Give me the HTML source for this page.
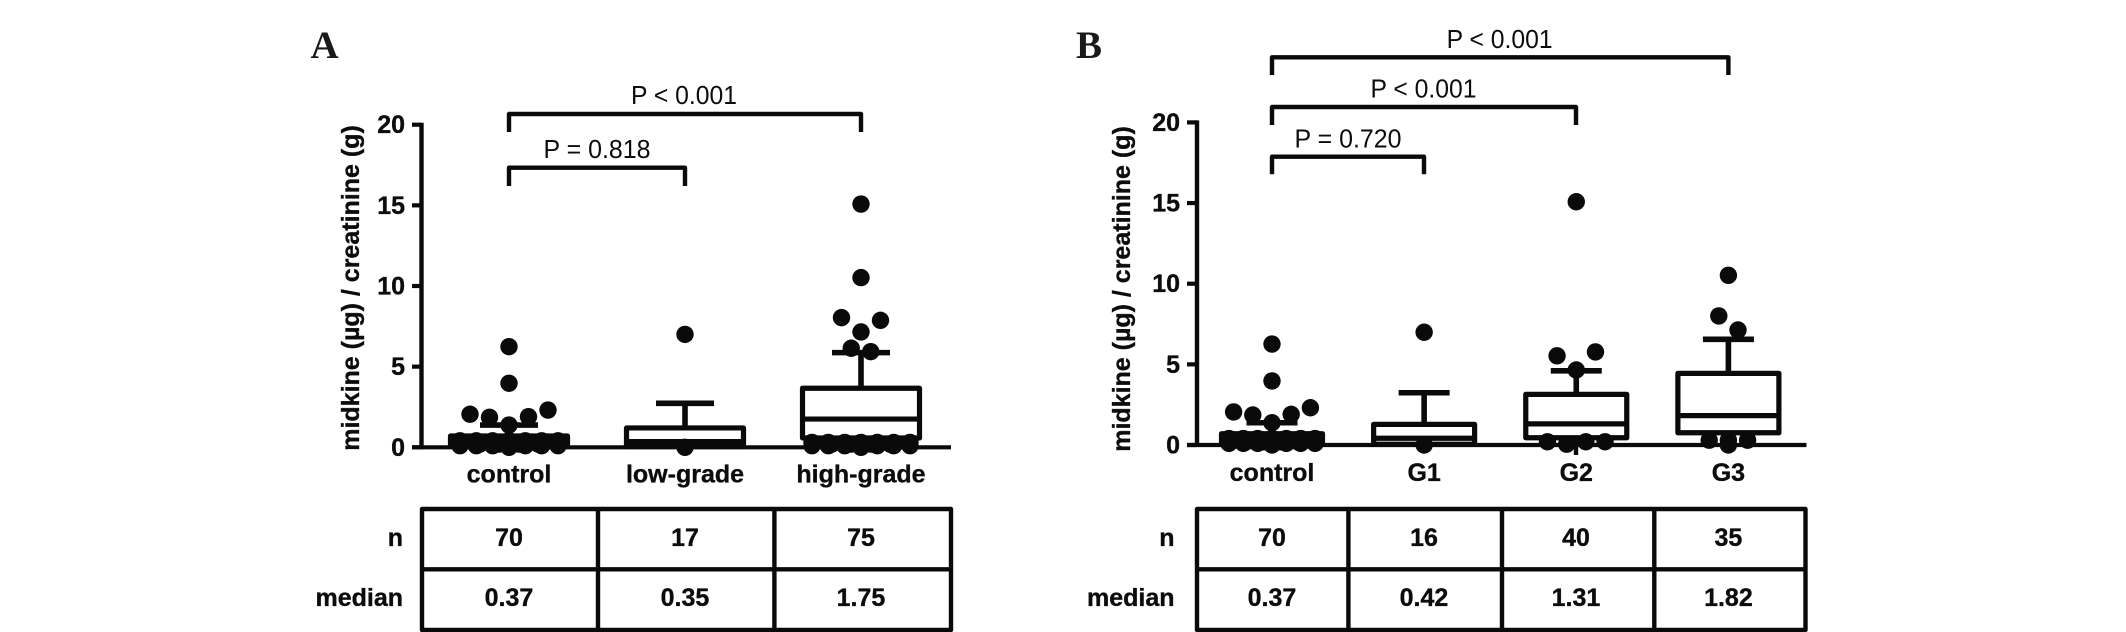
<!DOCTYPE html>
<html lang="en">
<head>
<meta charset="utf-8">
<title>Urinary midkine box plots</title>
<style>
html,body{margin:0;padding:0;background:#fff;}
svg{display:block;}
text{font-family:"Liberation Sans",sans-serif;fill:#0c0c0c;}
.b{font-weight:bold;font-size:25px;stroke:#0c0c0c;stroke-width:0.35px;}
.p{font-size:26px;text-anchor:middle;}
.m{text-anchor:middle;}
.e{text-anchor:end;}
.panel{font-family:"Liberation Serif",serif;font-weight:bold;font-size:39px;fill:#1a1a1a;}
.ln{fill:none;stroke:#0a0a0a;stroke-width:4.4;stroke-linejoin:round;}
</style>
</head>
<body>
<svg id="figure" xmlns="http://www.w3.org/2000/svg" width="2126" height="632" viewBox="0 0 2126 632">
  <rect x="0" y="0" width="2126" height="632" fill="#fff"/>

  <g id="panel-a">
    <text class="panel" x="310.5" y="58">A</text>
    <text class="b m" transform="translate(359 288) rotate(-90)" x="0" y="0">midkine (µg) / creatinine (g)</text>
    <path class="ln" d="M509 132V114H861V132"/>
    <path class="ln" d="M509 186V167.7H685V186"/>
    <text class="p" x="684" y="104" textLength="106" lengthAdjust="spacingAndGlyphs">P &lt; 0.001</text>
    <text class="p" x="597" y="158" textLength="107" lengthAdjust="spacingAndGlyphs">P = 0.818</text>
    <g>
      <rect class="ln" x="422" y="509" width="529" height="121"/>
      <path class="ln" d="M422 569.3H951M598 509V630M774.4 509V630"/>
      <text class="b e" x="403" y="546">n</text>
      <text class="b e" x="403" y="606">median</text>
      <text class="b m" x="509" y="546">70</text>
      <text class="b m" x="685" y="546">17</text>
      <text class="b m" x="861" y="546">75</text>
      <text class="b m" x="509" y="606">0.37</text>
      <text class="b m" x="685" y="606">0.35</text>
      <text class="b m" x="861" y="606">1.75</text>
    </g>
  </g>

  <g id="panel-b">
    <text class="panel" x="1076" y="58">B</text>
    <text class="b m" transform="translate(1130 289) rotate(-90)" x="0" y="0">midkine (µg) / creatinine (g)</text>
    <path class="ln" d="M1272 75V57.3H1728.4V75"/>
    <path class="ln" d="M1272 125V107H1576V125"/>
    <path class="ln" d="M1272 174.3V156.7H1424V174.3"/>
    <text class="p" x="1499.6" y="48" textLength="106" lengthAdjust="spacingAndGlyphs">P &lt; 0.001</text>
    <text class="p" x="1423.5" y="97.5" textLength="106" lengthAdjust="spacingAndGlyphs">P &lt; 0.001</text>
    <text class="p" x="1348" y="147.5" textLength="107" lengthAdjust="spacingAndGlyphs">P = 0.720</text>
    <line class="ln" x1="1576" y1="445" x2="1576" y2="455"/>
    <g>
      <rect class="ln" x="1197" y="509" width="608.5" height="121"/>
      <path class="ln" d="M1197 569.3H1805.5M1348.4 509V630M1502 509V630M1654.3 509V630"/>
      <text class="b e" x="1174.5" y="546">n</text>
      <text class="b e" x="1174.5" y="606">median</text>
      <text class="b m" x="1272" y="546">70</text>
      <text class="b m" x="1424" y="546">16</text>
      <text class="b m" x="1576" y="546">40</text>
      <text class="b m" x="1728.4" y="546">35</text>
      <text class="b m" x="1272" y="606">0.37</text>
      <text class="b m" x="1424" y="606">0.42</text>
      <text class="b m" x="1576" y="606">1.31</text>
      <text class="b m" x="1728.4" y="606">1.82</text>
    </g>
  </g>
</svg>

<script>
const tickValues = [0, 5, 10, 15, 20];

const categoriesA = ['control', 'low-grade', 'high-grade'];
const q1A = [0.15, 0.05, 0.58];
const medianA = [0.37, 0.35, 1.75];
const q3A = [0.7, 1.2, 3.66];
const whiskerHighA = [1.38, 2.73, 5.87];
const whiskerLowA = [0, 0, 0];
const dotRowsControlA = [[6.24], [3.97], [1.38, 1.86, 1.9, 2.05, 2.31], [0.4, 0.4, 0.4, 0.4, 0.4, 0.4, 0.4], [0.2, 0.2, 0.2, 0.2, 0.2, 0.2], [0, 0.1, 0.1, 0.1, 0.1, 0.1, 0.1]];
const dotRowsLowGradeA = [[7.0], [0]];
const dotRowsHighGradeA = [[15.08], [10.52], [7.15, 8.04, 7.87], [6.14, 5.93], [0.3, 0.3, 0.3, 0.3, 0.3, 0.3, 0.3], [0.2, 0.2, 0.2, 0.2, 0.2, 0.2], [0, 0.1, 0.1, 0.1, 0.1, 0.1, 0.1]];
const dotsA = [dotRowsControlA, dotRowsLowGradeA, dotRowsHighGradeA];

const categoriesB = ['control', 'G1', 'G2', 'G3'];
const q1B = [0.15, 0.05, 0.45, 0.76];
const medianB = [0.37, 0.42, 1.31, 1.82];
const q3B = [0.7, 1.28, 3.14, 4.44];
const whiskerHighB = [1.38, 3.24, 4.6, 6.55];
const whiskerLowB = [0, 0, 0, 0];
const dotRowsControlB = [[6.26], [3.97], [1.38, 1.86, 1.9, 2.05, 2.31], [0.4, 0.4, 0.4, 0.4, 0.4, 0.4, 0.4], [0.2, 0.2, 0.2, 0.2, 0.2, 0.2], [0, 0.1, 0.1, 0.1, 0.1, 0.1, 0.1]];
const dotRowsG1B = [[6.99], [0]];
const dotRowsG2B = [[15.08], [4.65, 5.53, 5.77], [0.05, 0.2, 0.2, 0.2]];
const dotRowsG3B = [[10.52], [8.0, 7.13], [0.3, 0.3, 0.3], [0]];
const dotsB = [dotRowsControlB, dotRowsG1B, dotRowsG2B, dotRowsG3B];

const SVGNS = 'http://www.w3.org/2000/svg';

function shape(parent, tag, attrs) {
  const el = document.createElementNS(SVGNS, tag);
  for (const k in attrs) el.setAttribute(k, attrs[k]);
  parent.appendChild(el);
  return el;
}

function linearScale(origin, perUnit) {
  return function (v) { return origin - v * perUnit; };
}

function bandScale(first, step) {
  return function (i) { return first + i * step; };
}

function rowOffset(i, n) {
  if (n % 2 === 1) {
    if (i === 0) return 0;
    const k = Math.ceil(i / 2);
    return i % 2 === 1 ? -k : k;
  }
  const k = Math.floor(i / 2) + 0.5;
  return i % 2 === 0 ? -k : k;
}

function drawPanel(panelId, cfg, categories, q1, median, q3, whiskerHigh, whiskerLow, dots) {
  const root = document.getElementById(panelId);
  const y = linearScale(cfg.zeroY, cfg.perUnit);
  const x = bandScale(cfg.firstX, cfg.stepX);

  const axisY = shape(root, 'line', { x1: cfg.axisX, x2: cfg.axisX, y1: y(20) - 2, y2: y(0) + 2, stroke: '#0a0a0a', 'stroke-width': 4.4 });
  
  

  const axisX = shape(root, 'line', { x1: cfg.tickX, x2: cfg.axisEnd, y1: y(0), y2: y(0), stroke: '#0a0a0a', 'stroke-width': 4.2 });
  
  

  tickValues.forEach(function (t) {
    const tick = shape(root, 'line', { x1: cfg.tickX, x2: cfg.axisX, y1: y(t), y2: y(t), stroke: '#0a0a0a', 'stroke-width': 4.2 });
    
    
    const lab = shape(root, 'text', { x: cfg.tickLabelX, y: y(t) + 8.5, class: 'b e' });
    
    
    lab.textContent = String(t);
  });

  categories.forEach(function (name, i) {
    const cx = x(i);

    const lab = shape(root, 'text', { x: cx, y: cfg.labelY, class: 'b m' });
    
    
    lab.textContent = name;

    const box = shape(root, 'rect', { x: cx - cfg.boxHalf, y: y(q3[i]), width: cfg.boxHalf * 2, height: y(q1[i]) - y(q3[i]), fill: 'none', stroke: '#0a0a0a', 'stroke-width': 5.2, 'stroke-linejoin': 'round' });
    
    

    const med = shape(root, 'line', { x1: cx - cfg.boxHalf, x2: cx + cfg.boxHalf, y1: y(median[i]), y2: y(median[i]), stroke: '#0a0a0a', 'stroke-width': 5.2 });
    
    

    const upper = shape(root, 'line', { x1: cx, x2: cx, y1: y(q3[i]), y2: y(whiskerHigh[i]), stroke: '#0a0a0a', 'stroke-width': 5.6 });
    
    

    const upperCap = shape(root, 'line', { x1: cx - cfg.capHalf, x2: cx + cfg.capHalf, y1: y(whiskerHigh[i]), y2: y(whiskerHigh[i]), stroke: '#0a0a0a', 'stroke-width': 5.6 });
    
    

    const lower = shape(root, 'line', { x1: cx, x2: cx, y1: y(q1[i]), y2: y(whiskerLow[i]), stroke: '#0a0a0a', 'stroke-width': 5 });
    
    

    dots[i].forEach(function (row) {
      const step = row.length > 1 ? Math.min(cfg.dotStep, cfg.swarmHalf / ((row.length - 1) / 2)) : cfg.dotStep;
      row.forEach(function (v, j) {
        const dot = shape(root, 'circle', { cx: cx + rowOffset(j, row.length) * step, cy: y(v), r: 8.7, fill: '#0a0a0a' });
        
        
      });
    });
  });
}

drawPanel('panel-a', { zeroY: 447.3, perUnit: 16.13, firstX: 509, stepX: 176, axisX: 421.5, tickX: 412, axisEnd: 951, tickLabelX: 405, labelY: 482.5, boxHalf: 58.5, capHalf: 29, dotStep: 19.5, swarmHalf: 49 }, categoriesA, q1A, medianA, q3A, whiskerHighA, whiskerLowA, dotsA);

drawPanel('panel-b', { zeroY: 445, perUnit: 16.13, firstX: 1272, stepX: 152.13, axisX: 1197, tickX: 1187, axisEnd: 1806.5, tickLabelX: 1180, labelY: 481, boxHalf: 50.5, capHalf: 25.5, dotStep: 19.2, swarmHalf: 43 }, categoriesB, q1B, medianB, q3B, whiskerHighB, whiskerLowB, dotsB);
</script>
</body>
</html>
